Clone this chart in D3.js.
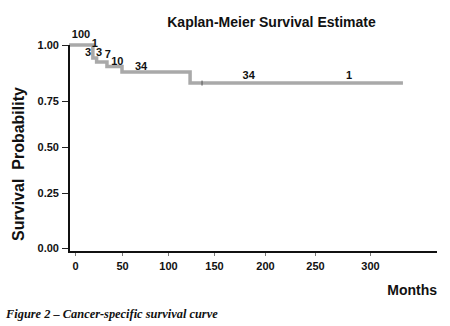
<!DOCTYPE html>
<html>
<head>
<meta charset="utf-8">
<script src="https://cdn.jsdelivr.net/npm/d3@7"></script>
<style>
  html, body { margin: 0; padding: 0; background: #fff; }
  svg { display: block; }
</style>
</head>
<body>
<svg id="chart" width="450" height="326"></svg>
<script>
// ---- data ----
const stepMonths   = [19, 23, 34, 50, 124];          // months where the curve steps down
const stepSurvival = [0.942, 0.924, 0.904, 0.879, 0.830]; // survival after each step
const startSurvival = 1.0;
const endMonth = 330;
const censorMonths = [137];

const xTicks = [0, 50, 100, 150, 200, 250, 300];
const yTicks = [0, 0.25, 0.5, 0.75, 1.0];
const yTickLabels = ["0.00", "0.25", "0.50", "0.75", "1.00"];

const riskLabels = ["100", "1", "3", "3", "7", "10", "34", "34", "1"];
const riskMonths = [6.4, 21, 14, 25.5, 35, 45, 70.7, 184, 281];
const riskValues = [1.031, 0.991, 0.951, 0.951, 0.942, 0.911, 0.888, 0.848, 0.848];

const titleText = "Kaplan-Meier Survival Estimate";
const xTitle = "Months";
const yTitle = "Survival\u00a0\u00a0Probability";
const captionText = "Figure 2 \u2013 Cancer-specific survival curve";

// ---- scales (scanned axes are slightly non-uniform) ----
const x = d3.scaleLinear()
  .domain([-6.4, 0, 50, 100, 150, 200, 250, 300, 361])
  .range([69, 75, 122, 168, 214, 265, 315, 370, 437]);
const y = d3.scaleLinear()
  .domain([-0.02, 0, 0.25, 0.5, 0.75, 1])
  .range([252, 248, 193, 147, 101, 45]);

const svg = d3.select("#chart");
const sans = "'Liberation Sans', Arial, Helvetica, sans-serif";

// ---- curve ----
const pts = [[x.domain()[0], startSurvival]];
let cur = startSurvival;
stepMonths.forEach((m, i) => {
  pts.push([m, cur]);
  cur = stepSurvival[i];
  pts.push([m, cur]);
});
pts.push([endMonth, cur]);

const line = d3.line().x(d => x(d[0])).y(d => y(d[1]));
svg.append("path")
  .attr("d", line(pts))
  .attr("fill", "none")
  .attr("stroke", "#a9a9a9")
  .attr("stroke-width", 3.5)
  .attr("stroke-linejoin", "miter");

// censor marks
function survAt(m) {
  let s = startSurvival;
  stepMonths.forEach((t, i) => { if (m >= t) s = stepSurvival[i]; });
  return s;
}
svg.selectAll(".censor").data(censorMonths).enter().append("line")
  .attr("x1", d => x(d)).attr("x2", d => x(d))
  .attr("y1", d => y(survAt(d)) - 2.5).attr("y2", d => y(survAt(d)) + 2.5)
  .attr("stroke", "#555").attr("stroke-width", 1);

// ---- axes ----
const yAxis = d3.axisLeft(y)
  .tickValues(yTicks)
  .tickFormat((d, i) => yTickLabels[i])
  .tickSize(7)
  .tickPadding(3);
const gy = svg.append("g").attr("transform", `translate(${x.range()[0]},0)`).call(yAxis);
gy.select(".domain").remove();
gy.selectAll(".tick line").attr("stroke", "#222").attr("stroke-width", 1);
gy.selectAll(".tick text")
  .attr("font-family", sans).attr("font-size", 11).attr("font-weight", "bold")
  .attr("fill", "#111");

const xAxis = d3.axisBottom(x)
  .tickValues(xTicks)
  .tickFormat(d3.format("d"))
  .tickSize(4)
  .tickPadding(6);
const gx = svg.append("g").attr("transform", `translate(0,${y.range()[0]})`).call(xAxis);
gx.select(".domain").remove();
gx.selectAll(".tick line").attr("stroke", "#777").attr("stroke-width", 1);
gx.selectAll(".tick text")
  .attr("font-family", sans).attr("font-size", 11).attr("font-weight", "bold")
  .attr("fill", "#111");

// axis lines
svg.append("line")
  .attr("x1", x.range()[0]).attr("x2", x.range()[0])
  .attr("y1", y(1)).attr("y2", y.range()[0] + 1)
  .attr("stroke", "#111").attr("stroke-width", 2);
svg.append("line")
  .attr("x1", x.range()[0] - 1).attr("x2", x.range()[x.range().length - 1])
  .attr("y1", y.range()[0]).attr("y2", y.range()[0])
  .attr("stroke", "#111").attr("stroke-width", 2);

// ---- at-risk labels ----
svg.selectAll(".risk").data(riskLabels).enter().append("text")
  .attr("x", (d, i) => x(riskMonths[i]))
  .attr("y", (d, i) => y(riskValues[i]))
  .attr("text-anchor", "middle")
  .attr("font-family", sans).attr("font-size", 11).attr("font-weight", "bold")
  .attr("fill", "#111")
  .text(d => d);

// ---- titles ----
svg.append("text")
  .attr("x", 271.5).attr("y", 27)
  .attr("text-anchor", "middle")
  .attr("font-family", sans).attr("font-size", 14).attr("font-weight", "bold")
  .attr("fill", "#111")
  .text(titleText);

svg.append("text")
  .attr("x", 437).attr("y", 295)
  .attr("text-anchor", "end")
  .attr("font-family", sans).attr("font-size", 14).attr("font-weight", "bold")
  .attr("fill", "#111")
  .text(xTitle);

svg.append("text")
  .attr("transform", "translate(24,164) rotate(-90)")
  .attr("text-anchor", "middle")
  .attr("font-family", sans).attr("font-size", 16).attr("font-weight", "bold")
  .attr("fill", "#111")
  .text(yTitle);

svg.append("text")
  .attr("x", 6).attr("y", 318)
  .attr("font-family", "'Liberation Serif', 'Times New Roman', serif")
  .attr("font-size", 12.4).attr("font-weight", "bold").attr("font-style", "italic")
  .attr("fill", "#111")
  .text(captionText);
</script>
</body>
</html>
